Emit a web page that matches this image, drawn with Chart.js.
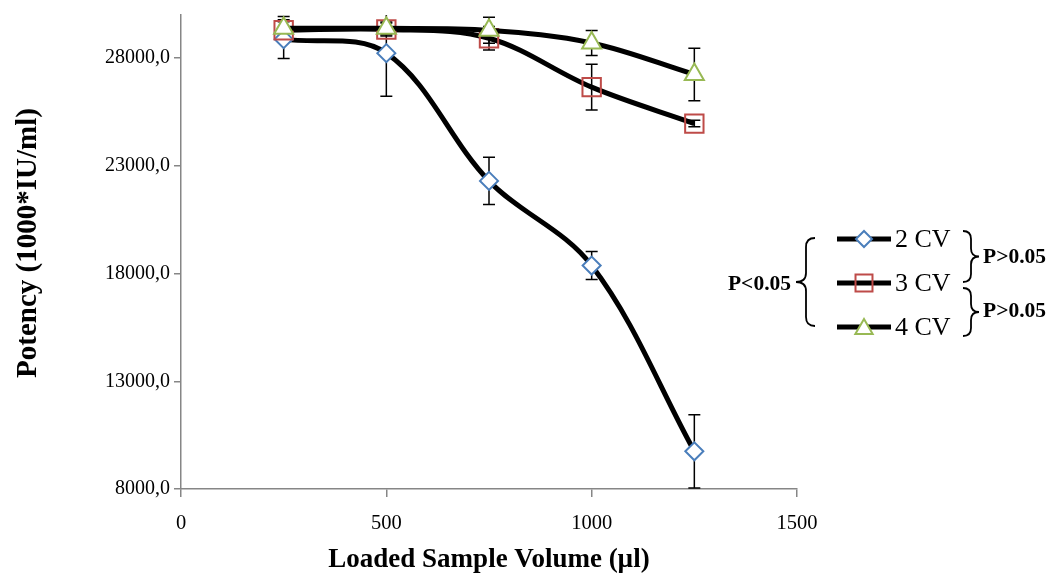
<!DOCTYPE html>
<html>
<head>
<meta charset="utf-8">
<title>Potency vs loaded sample volume</title>
<script src="https://cdn.jsdelivr.net/npm/chart.js@4.4.1/dist/chart.umd.min.js"></script>
<style>
  html, body { margin: 0; padding: 0; background: #fff; }
  #wrap { position: relative; width: 1060px; height: 576px; }
</style>
</head>
<body>
<div id="wrap"><canvas id="potencyChart" width="1060" height="576"></canvas></div>
<script>
// values
const volumes = [250, 500, 750, 1000, 1250];
const seriesNames = ["2 CV", "3 CV", "4 CV"];
const cv2 = [28880, 28230, 22300, 18370, 9750];
const cv3 = [29290, 29330, 28920, 26650, 24960];
const cv4 = [29380, 29380, 29290, 28700, 27240];
const cv2Err = [900, 2000, 1100, 650, 1700];
const cv3Err = [400, 300, 550, 1060, 150];
const cv4Err = [550, 300, 600, 580, 1220];
const xTicks = [0, 500, 1000, 1500];
const yTicks = [8000, 13000, 18000, 23000, 28000];
const yTitle = "Potency (1000*IU/ml)";
const xTitle = "Loaded Sample Volume (µl)";
const pLeftLabel = "P<0.05";
const pRightLabels = ["P>0.05", "P>0.05"];

const serif = '"Liberation Serif", "Times New Roman", serif';
Chart.defaults.font.family = serif;
Chart.defaults.color = "#000";

const axisGray = "#868686";
const allErr = [cv2Err, cv3Err, cv4Err];

function toPoints(values) {
  return volumes.map((v, i) => ({ x: v, y: values[i] }));
}

// error bars drawn under the lines, clipped to the plot area
const errorBars = {
  id: "errorBars",
  beforeDatasetsDraw(chart) {
    const ctx = chart.ctx;
    const area = chart.chartArea;
    const xs = chart.scales.x;
    const ys = chart.scales.y;
    ctx.save();
    ctx.beginPath();
    ctx.rect(area.left, area.top, area.right - area.left, area.bottom - area.top);
    ctx.clip();
    ctx.strokeStyle = "#000";
    ctx.lineWidth = 1.5;
    chart.data.datasets.forEach((ds, i) => {
      ds.data.forEach((p, j) => {
        const px = xs.getPixelForValue(p.x);
        const top = ys.getPixelForValue(p.y + allErr[i][j]);
        const bot = ys.getPixelForValue(p.y - allErr[i][j]);
        ctx.beginPath();
        ctx.moveTo(px, top);
        ctx.lineTo(px, bot);
        ctx.moveTo(px - 6, top);
        ctx.lineTo(px + 6, top);
        ctx.moveTo(px - 6, bot);
        ctx.lineTo(px + 6, bot);
        ctx.stroke();
      });
    });
    ctx.restore();
  },
};

function drawBrace(ctx, xEnd, xBody, xTip, yTop, yBot, r) {
  const yMid = (yTop + yBot) / 2;
  ctx.beginPath();
  ctx.moveTo(xEnd, yTop);
  ctx.quadraticCurveTo(xBody, yTop, xBody, yTop + r);
  ctx.lineTo(xBody, yMid - r);
  ctx.quadraticCurveTo(xBody, yMid, xTip, yMid);
  ctx.quadraticCurveTo(xBody, yMid, xBody, yMid + r);
  ctx.lineTo(xBody, yBot - r);
  ctx.quadraticCurveTo(xBody, yBot, xEnd, yBot);
  ctx.stroke();
}

// legend on the right with the significance brackets, plus the y title
const sideLegend = {
  id: "sideLegend",
  afterDraw(chart) {
    const ctx = chart.ctx;
    const rows = [239, 283, 327];
    chart.data.datasets.forEach((ds, i) => {
      const yy = rows[i];
      ctx.save();
      ctx.strokeStyle = "#000";
      ctx.lineWidth = 5;
      ctx.beginPath();
      ctx.moveTo(837, yy);
      ctx.lineTo(891, yy);
      ctx.stroke();
      ctx.fillStyle = ds.pointBackgroundColor;
      ctx.strokeStyle = ds.pointBorderColor;
      ctx.lineWidth = ds.pointBorderWidth;
      Chart.helpers.drawPoint(ctx, {
        pointStyle: ds.pointStyle,
        radius: ds.pointRadius - 1,
        borderWidth: ds.pointBorderWidth,
        rotation: 0,
      }, 864, ds.pointStyle === "triangle" ? yy + 2 : yy);
      ctx.fillStyle = "#000";
      ctx.font = "26px " + serif;
      ctx.textAlign = "left";
      ctx.textBaseline = "middle";
      ctx.fillText(ds.label, 895, yy + 1);
      ctx.restore();
    });

    ctx.save();
    ctx.strokeStyle = "#000";
    ctx.lineWidth = 1.8;
    drawBrace(ctx, 815, 806, 796, 238, 326, 9);
    drawBrace(ctx, 963, 971, 979, 231, 282, 8);
    drawBrace(ctx, 963, 971, 979, 288, 336, 8);
    ctx.fillStyle = "#000";
    ctx.font = "bold 21.5px " + serif;
    ctx.textBaseline = "middle";
    ctx.textAlign = "right";
    ctx.fillText(pLeftLabel, 791, 284);
    ctx.textAlign = "left";
    ctx.fillText(pRightLabels[0], 983, 257);
    ctx.fillText(pRightLabels[1], 983, 311);

    // y axis title (Excel puts it a little above the plot centre)
    ctx.translate(29, 243);
    ctx.rotate(-Math.PI / 2);
    ctx.font = "bold 29px " + serif;
    ctx.textAlign = "center";
    ctx.fillText(yTitle, 0, 0);
    ctx.restore();
  },
};

const ctx = document.getElementById("potencyChart");

new Chart(ctx.getContext("2d"), {
  type: "line",
  data: {
    datasets: [
      {
        label: seriesNames[0],
        data: toPoints(cv2),
        order: 3,
        borderColor: "#000",
        borderWidth: 5,
        tension: 0.35,
        pointStyle: "rectRot",
        pointRadius: 9,
        pointBorderWidth: 2,
        pointBorderColor: "#4A7EBB",
        pointBackgroundColor: "#fff",
      },
      {
        label: seriesNames[1],
        data: toPoints(cv3),
        order: 2,
        borderColor: "#000",
        borderWidth: 5,
        tension: 0.35,
        pointStyle: "rect",
        pointRadius: 13,
        pointBorderWidth: 2,
        pointBorderColor: "#BE4B48",
        pointBackgroundColor: "rgba(0,0,0,0)",
      },
      {
        label: seriesNames[2],
        data: toPoints(cv4),
        order: 1,
        borderColor: "#000",
        borderWidth: 5,
        tension: 0.35,
        pointStyle: "triangle",
        pointRadius: 11,
        pointBorderWidth: 2,
        pointBorderColor: "#98B954",
        pointBackgroundColor: "#fff",
      },
    ],
  },
  options: {
    responsive: false,
    devicePixelRatio: 1,
    animation: false,
    layout: {
      padding: { left: 0, right: 263, top: 7, bottom: 0 },
    },
    plugins: {
      legend: { display: false },
      tooltip: { enabled: false },
    },
    scales: {
      x: {
        type: "linear",
        min: xTicks[0],
        max: xTicks[xTicks.length - 1],
        afterFit: (s) => {
          s.height = 87;
          s.paddingLeft = 0;
          s.paddingRight = 0;
        },
        afterBuildTicks: (s) => { s.ticks = xTicks.map((v) => ({ value: v })); },
        border: { color: axisGray, width: 1.5 },
        grid: {
          drawOnChartArea: false,
          drawTicks: true,
          tickLength: 8,
          color: axisGray,
          lineWidth: 1.5,
        },
        ticks: {
          padding: 14,
          font: { size: 20.5 },
          maxRotation: 0,
          callback: (v) => String(v),
        },
        title: {
          display: true,
          text: xTitle,
          font: { size: 27, weight: "bold" },
          padding: { top: 0, bottom: 0 },
        },
      },
      y: {
        type: "linear",
        min: 8000,
        max: 30000,
        afterFit: (s) => {
          s.width = 181;
          s.paddingTop = 0;
          s.paddingBottom = 0;
        },
        afterBuildTicks: (s) => { s.ticks = yTicks.map((v) => ({ value: v })); },
        border: { color: axisGray, width: 1.5 },
        grid: {
          drawOnChartArea: false,
          drawTicks: true,
          tickLength: 7,
          color: axisGray,
          lineWidth: 1.5,
        },
        ticks: {
          padding: 4,
          font: { size: 20 },
          callback: (v) => Number(v).toFixed(1).replace(".", ","),
        },
        title: { display: false },
      },
    },
  },
  plugins: [errorBars, sideLegend],
});
</script>
</body>
</html>
